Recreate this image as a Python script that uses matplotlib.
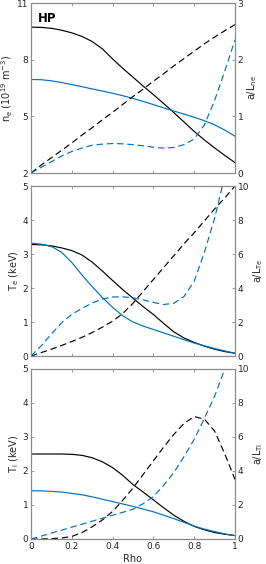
import matplotlib
matplotlib.use("Agg")
import matplotlib.pyplot as plt

rho = [0.0, 0.05, 0.1, 0.15, 0.2, 0.25, 0.3, 0.35, 0.4, 0.45, 0.5,
       0.55, 0.6, 0.65, 0.7, 0.75, 0.8, 0.85, 0.9, 0.95, 1.0]

ne_black = [9.72, 9.71, 9.66, 9.56, 9.42, 9.23, 8.96, 8.57, 8.04, 7.54, 7.07,
            6.6, 6.15, 5.68, 5.2, 4.7, 4.2, 3.75, 3.33, 2.93, 2.55]
ne_blue = [6.95, 6.94, 6.88, 6.79, 6.68, 6.57, 6.45, 6.34, 6.22, 6.09, 5.95,
           5.79, 5.62, 5.45, 5.28, 5.12, 4.95, 4.77, 4.55, 4.27, 3.95]
aLne_black = [0, 0.14, 0.27, 0.4, 0.53, 0.67, 0.8, 0.94, 1.07, 1.21, 1.35,
              1.48, 1.62, 1.75, 1.89, 2.02, 2.15, 2.28, 2.4, 2.51, 2.62]
aLne_blue = [0, 0.1, 0.2, 0.3, 0.38, 0.44, 0.49, 0.51, 0.52, 0.515, 0.5,
             0.48, 0.455, 0.44, 0.45, 0.5, 0.6, 0.85, 1.28, 1.8, 2.35]

Te_black = [3.28, 3.27, 3.24, 3.18, 3.1, 2.97, 2.76, 2.5, 2.22, 1.95, 1.7,
            1.45, 1.22, 0.96, 0.71, 0.53, 0.4, 0.29, 0.2, 0.13, 0.08]
Te_blue = [3.32, 3.29, 3.22, 3.05, 2.75, 2.38, 2.04, 1.72, 1.43, 1.18, 1.0,
           0.88, 0.78, 0.68, 0.58, 0.48, 0.38, 0.3, 0.22, 0.15, 0.08]
aLTe_black = [0, 0.2, 0.4, 0.62, 0.85, 1.1, 1.38, 1.7, 2.05, 2.5, 3.1,
              3.8, 4.5, 5.2, 5.9, 6.6, 7.25, 7.95, 8.65, 9.3, 10.0]
aLTe_blue = [0, 0.6, 1.3, 1.95, 2.45, 2.8, 3.12, 3.35, 3.47, 3.48, 3.42,
             3.3, 3.15, 3.03, 3.1, 3.5, 4.4, 6.1, 8.1, 10.6, 13.5]

Ti_black = [2.5, 2.5, 2.5, 2.5, 2.49, 2.46, 2.39, 2.27, 2.1, 1.87, 1.6,
            1.38, 1.15, 0.92, 0.7, 0.52, 0.37, 0.27, 0.19, 0.14, 0.1]
Ti_blue = [1.42, 1.415, 1.4, 1.38, 1.34, 1.3, 1.24, 1.17, 1.1, 1.03, 0.96,
           0.88, 0.8, 0.7, 0.6, 0.49, 0.38, 0.29, 0.22, 0.15, 0.1]
aLTi_black = [0, 0, 0.02, 0.06, 0.15, 0.38, 0.72, 1.12, 1.62, 2.28, 3.0,
              3.8, 4.6, 5.4, 6.15, 6.8, 7.2, 7.05, 6.35, 5.0, 3.5]
aLTi_blue = [0, 0.17, 0.35, 0.52, 0.7, 0.87, 1.05, 1.22, 1.4, 1.57, 1.75,
             2.08, 2.5, 3.15, 3.9, 4.85, 5.86, 7.1, 8.4, 10.0, 11.8]

xticks = [0, 0.2, 0.4, 0.6, 0.8, 1]
xticklabels = ["0", "0.2", "0.4", "0.6", "0.8", "1"]

panels = [
    dict(left=(ne_black, ne_blue), right=(aLne_black, aLne_blue),
         ylim=(2, 11), yticks=[2, 5, 8, 11], rlim=(0, 3), rticks=[0, 1, 2, 3],
         ylabel=r"n$_{\rm e}$ (10$^{19}$ m$^{-3}$)", rlabel=r"a/L$_{\rm ne}$"),
    dict(left=(Te_black, Te_blue), right=(aLTe_black, aLTe_blue),
         ylim=(0, 5), yticks=[0, 1, 2, 3, 4, 5], rlim=(0, 10), rticks=[0, 2, 4, 6, 8, 10],
         ylabel=r"T$_{\rm e}$ (keV)", rlabel=r"a/L$_{\rm Te}$"),
    dict(left=(Ti_black, Ti_blue), right=(aLTi_black, aLTi_blue),
         ylim=(0, 5), yticks=[0, 1, 2, 3, 4, 5], rlim=(0, 10), rticks=[0, 2, 4, 6, 8, 10],
         ylabel=r"T$_{\rm i}$ (keV)", rlabel=r"a/L$_{\rm Ti}$"),
]

BLUE = "#0072BD"
AXC = "#8a8a8a"
TXC = "#262626"
fs = 6.5

fig = plt.figure(figsize=(2.66, 5.64), dpi=100)
W, H = 266, 564
L, R = 31, 235
tops = [3, 186, 369]
ph = 170

for i, p in enumerate(panels):
    y0 = 1 - (tops[i] + ph) / H
    ax = fig.add_axes([L / W, y0, (R - L) / W, ph / H])
    ax2 = ax.twinx()
    lw = 0.85
    ax.plot(rho, p["left"][0], color="black", lw=lw)
    ax.plot(rho, p["left"][1], color=BLUE, lw=lw)
    ax2.plot(rho, p["right"][0], color="black", lw=lw, ls=(0, (5.5, 3.2)))
    ax2.plot(rho, p["right"][1], color=BLUE, lw=lw, ls=(0, (5.5, 3.2)))
    ax.set_xlim(0, 1)
    ax.set_ylim(*p["ylim"])
    ax.set_yticks(p["yticks"])
    ax2.set_ylim(*p["rlim"])
    ax2.set_yticks(p["rticks"])
    ax.set_xticks(xticks)
    if i == 2:
        ax.set_xticklabels(xticklabels)
        ax.set_xlabel("Rho", fontsize=7, color=TXC, labelpad=2)
    else:
        ax.set_xticklabels([])
    for a in (ax, ax2):
        for s in a.spines.values():
            s.set_color(AXC)
            s.set_linewidth(0.8)
        a.tick_params(direction="in", length=2.5, width=0.6, color=AXC,
                      labelsize=fs, labelcolor=TXC, pad=2)
    ax.tick_params(axis="x", top=True)
    ax.set_ylabel(p["ylabel"], fontsize=7, color=TXC, labelpad=1)
    ax2.set_ylabel(p["rlabel"], fontsize=7, color=TXC, labelpad=1.5, rotation=90)
    if i == 0:
        ax.text(0.035, 0.95, "HP", transform=ax.transAxes, fontsize=8.5,
                fontweight="bold", va="top", ha="left", color="black")

fig.savefig("out.png", dpi=100)
